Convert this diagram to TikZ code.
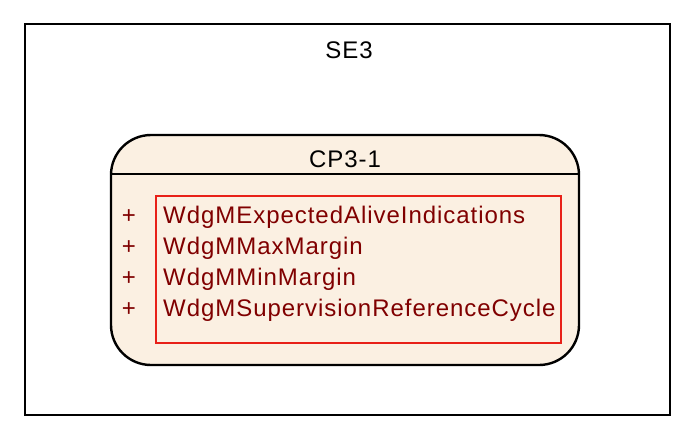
\documentclass[tikz,border=0pt]{standalone}
\usepackage{fontspec}
\setmainfont{Liberation Sans}[LetterSpace=4]
\definecolor{txtred}{RGB}{128,0,0}
\definecolor{boxfill}{RGB}{251,240,226}
\definecolor{boxred}{RGB}{232,32,24}
\begin{document}
\begin{tikzpicture}[x=1pt,y=-1pt,
  lbl/.style={font=\fontsize{24}{27}\selectfont, inner sep=0pt, anchor=base},
  attr/.style={lbl, text=txtred, anchor=base west},
  plus/.style={lbl, text=txtred}]
\useasboundingbox (0,0) rectangle (675,432);
\fill[white] (0,0) rectangle (675,432);
% outer package
\draw[line width=2.4pt] (25,24) rectangle (670,415);
\node[lbl] (se3) at (349,58) {SE3};
% rounded component
\draw[line width=2.4pt, fill=boxfill, rounded corners=40pt] (111,135) rectangle (579,365);
\draw[line width=2.2pt] (111,174) -- (579,174);
\node[lbl] (cp) at (345,167) {CP3-1};
% attribute box
\draw[line width=2.8pt, draw=boxred] (156,196) rectangle (561,343);
\node[plus] (p1) at (129,223) {+};
\node[plus] (p2) at (129,254) {+};
\node[plus] (p3) at (129,285) {+};
\node[plus] (p4) at (129,316) {+};
\node[attr] (a1) at (163,223) {WdgMExpectedAliveIndications};
\node[attr] (a2) at (163,254) {WdgMMaxMargin};
\node[attr] (a3) at (163,285) {WdgMMinMargin};
\node[attr] (a4) at (163,316) {WdgMSupervisionReferenceCycle};
\end{tikzpicture}
\end{document}
